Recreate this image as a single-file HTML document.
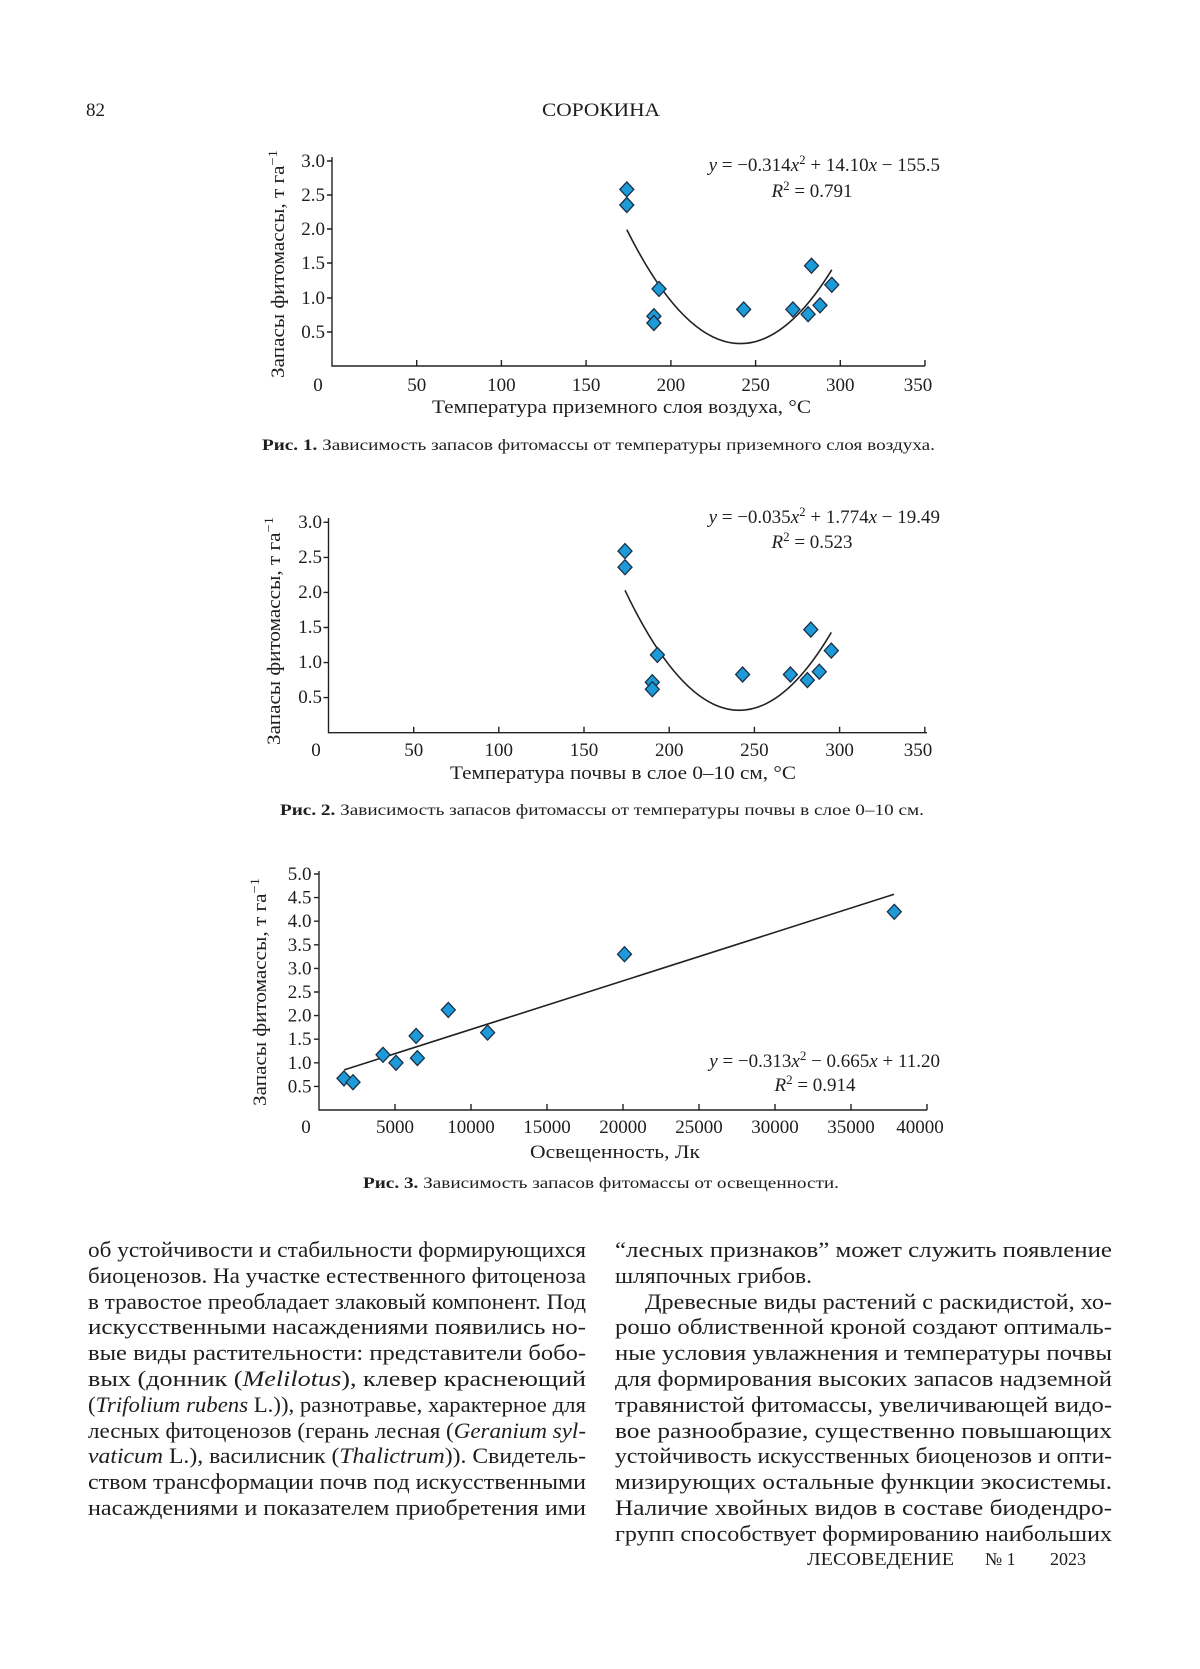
<!DOCTYPE html>
<html><head><meta charset="utf-8"><style>
html,body{margin:0;padding:0;background:#fff;}
svg{display:block;font-family:"Liberation Serif",serif;}
text{fill:#1e1e1e;}
</style></head><body>
<svg width="1200" height="1669" viewBox="0 0 1200 1669" xmlns="http://www.w3.org/2000/svg">
<defs>
<path id="d" d="M0,-7.5 L7,0 L0,7.5 L-7,0 Z" fill="#1c9bd8" stroke="#1d2f45" stroke-width="1.3"/>
</defs>
<text x="86" y="116" font-size="19">82</text>
<text x="542" y="116" font-size="19" textLength="118" lengthAdjust="spacingAndGlyphs">СОРОКИНА</text>

<!-- ===== Chart 1 ===== -->
<g stroke="#222" stroke-width="1.4" fill="none">
<path d="M332,157 V366 H925"/>
<path d="M327,161 H332 M327,195 H332 M327,229 H332 M327,263 H332 M327,298 H332 M327,332 H332"/>
<path d="M416.7,366 V360 M501.4,366 V360 M586.1,366 V360 M670.9,366 V360 M755.6,366 V360 M840.3,366 V360 M925,366 V360"/>
<path d="M626.8,229.6 Q729.3,435.3 831.8,269.8" stroke-width="1.6"/>
</g>
<g font-size="19" text-anchor="end">
<text x="325" y="167">3.0</text><text x="325" y="201">2.5</text><text x="325" y="235">2.0</text>
<text x="325" y="269">1.5</text><text x="325" y="304">1.0</text><text x="325" y="338">0.5</text>
</g>
<g font-size="19" text-anchor="middle">
<text x="318" y="391">0</text><text x="416.7" y="391">50</text><text x="501.4" y="391">100</text>
<text x="586.1" y="391">150</text><text x="670.9" y="391">200</text><text x="755.6" y="391">250</text>
<text x="840.3" y="391">300</text><text x="918" y="391">350</text>
</g>
<text x="432" y="413" font-size="19" textLength="379" lengthAdjust="spacingAndGlyphs">Температура приземного слоя воздуха, °C</text>
<text transform="translate(284,264) rotate(-90)" font-size="19" text-anchor="middle" textLength="228" lengthAdjust="spacingAndGlyphs">Запасы фитомассы, т га<tspan dy="-7" font-size="13">−1</tspan></text>
<text x="940" y="171" font-size="19" text-anchor="end"><tspan font-style="italic">y</tspan> = −0.314<tspan font-style="italic">x</tspan><tspan dy="-7" font-size="13">2</tspan><tspan dy="7"> + 14.10</tspan><tspan font-style="italic">x</tspan> − 155.5</text>
<text x="812" y="197" font-size="19" text-anchor="middle"><tspan font-style="italic">R</tspan><tspan dy="-7" font-size="13">2</tspan><tspan dy="7"> = 0.791</tspan></text>
<g>
<use href="#d" x="626.8" y="189.4"/><use href="#d" x="626.8" y="205.0"/>
<use href="#d" x="653.9" y="316.2"/><use href="#d" x="653.9" y="323.0"/>
<use href="#d" x="659.0" y="288.9"/><use href="#d" x="743.7" y="309.4"/>
<use href="#d" x="792.9" y="309.4"/><use href="#d" x="808.1" y="314.2"/>
<use href="#d" x="811.5" y="265.7"/><use href="#d" x="820.0" y="305.3"/>
<use href="#d" x="831.8" y="284.8"/>
</g>
<text x="262" y="450" font-size="16" textLength="673" lengthAdjust="spacingAndGlyphs"><tspan font-weight="bold">Рис. 1.</tspan> Зависимость запасов фитомассы от температуры приземного слоя воздуха.</text>

<!-- ===== Chart 2 ===== -->
<g stroke="#222" stroke-width="1.4" fill="none">
<path d="M328.5,518 V732.7 H927"/>
<path d="M323.5,522.3 H328.5 M323.5,557.4 H328.5 M323.5,592.4 H328.5 M323.5,627.5 H328.5 M323.5,662.6 H328.5 M323.5,697.6 H328.5"/>
<path d="M413.7,732.7 V726.7 M498.8,732.7 V726.7 M584,732.7 V726.7 M669.2,732.7 V726.7 M754.4,732.7 V726.7 M839.6,732.7 V726.7 M924.8,732.7 V726.7"/>
<path d="M625.0,590.3 Q728.2,807.0 831.3,632.4" stroke-width="1.6"/>
</g>
<g font-size="19" text-anchor="end">
<text x="322" y="528">3.0</text><text x="322" y="563">2.5</text><text x="322" y="598">2.0</text>
<text x="322" y="633">1.5</text><text x="322" y="668">1.0</text><text x="322" y="703">0.5</text>
</g>
<g font-size="19" text-anchor="middle">
<text x="316" y="756">0</text><text x="413.7" y="756">50</text><text x="498.8" y="756">100</text>
<text x="584" y="756">150</text><text x="669.2" y="756">200</text><text x="754.4" y="756">250</text>
<text x="839.6" y="756">300</text><text x="918" y="756">350</text>
</g>
<text x="450" y="779" font-size="19" textLength="346" lengthAdjust="spacingAndGlyphs">Температура почвы в слое 0–10 см, °C</text>
<text transform="translate(280,631) rotate(-90)" font-size="19" text-anchor="middle" textLength="228" lengthAdjust="spacingAndGlyphs">Запасы фитомассы, т га<tspan dy="-7" font-size="13">−1</tspan></text>
<text x="940" y="523" font-size="19" text-anchor="end"><tspan font-style="italic">y</tspan> = −0.035<tspan font-style="italic">x</tspan><tspan dy="-7" font-size="13">2</tspan><tspan dy="7"> + 1.774</tspan><tspan font-style="italic">x</tspan> − 19.49</text>
<text x="812" y="548" font-size="19" text-anchor="middle"><tspan font-style="italic">R</tspan><tspan dy="-7" font-size="13">2</tspan><tspan dy="7"> = 0.523</tspan></text>
<g>
<use href="#d" x="625.0" y="551.1"/><use href="#d" x="625.0" y="567.2"/>
<use href="#d" x="652.3" y="682.2"/><use href="#d" x="652.3" y="689.2"/>
<use href="#d" x="657.4" y="654.9"/><use href="#d" x="742.6" y="674.5"/>
<use href="#d" x="790.4" y="674.5"/><use href="#d" x="807.4" y="680.1"/>
<use href="#d" x="810.8" y="629.6"/><use href="#d" x="819.3" y="671.7"/>
<use href="#d" x="831.3" y="650.6"/>
</g>
<text x="280" y="815" font-size="16" textLength="644" lengthAdjust="spacingAndGlyphs"><tspan font-weight="bold">Рис. 2.</tspan> Зависимость запасов фитомассы от температуры почвы в слое 0–10 см.</text>

<!-- ===== Chart 3 ===== -->
<g stroke="#222" stroke-width="1.4" fill="none">
<path d="M319,871 V1110 H927"/>
<path d="M314,874 H319 M314,897.6 H319 M314,921.2 H319 M314,944.8 H319 M314,968.4 H319 M314,992 H319 M314,1015.6 H319 M314,1039.2 H319 M314,1062.8 H319 M314,1086.4 H319"/>
<path d="M395,1110 V1104 M471,1110 V1104 M547,1110 V1104 M623,1110 V1104 M699,1110 V1104 M775,1110 V1104 M851,1110 V1104 M927,1110 V1104"/>
<path d="M344.2,1069.9 L894.0,894.3" stroke-width="1.6"/>
</g>
<g font-size="19" text-anchor="end">
<text x="311.5" y="880">5.0</text><text x="311.5" y="903.6">4.5</text><text x="311.5" y="927.2">4.0</text>
<text x="311.5" y="950.8">3.5</text><text x="311.5" y="974.4">3.0</text><text x="311.5" y="998">2.5</text>
<text x="311.5" y="1021.6">2.0</text><text x="311.5" y="1045.2">1.5</text><text x="311.5" y="1068.8">1.0</text>
<text x="311.5" y="1092.4">0.5</text>
</g>
<g font-size="19" text-anchor="middle">
<text x="306" y="1133">0</text><text x="395" y="1133">5000</text><text x="471" y="1133">10000</text>
<text x="547" y="1133">15000</text><text x="623" y="1133">20000</text><text x="699" y="1133">25000</text>
<text x="775" y="1133">30000</text><text x="851" y="1133">35000</text><text x="920" y="1133">40000</text>
</g>
<text x="530" y="1158" font-size="19" textLength="170" lengthAdjust="spacingAndGlyphs">Освещенность, Лк</text>
<text transform="translate(266,992) rotate(-90)" font-size="19" text-anchor="middle" textLength="228" lengthAdjust="spacingAndGlyphs">Запасы фитомассы, т га<tspan dy="-7" font-size="13">−1</tspan></text>
<text x="940" y="1067" font-size="19" text-anchor="end"><tspan font-style="italic">y</tspan> = −0.313<tspan font-style="italic">x</tspan><tspan dy="-7" font-size="13">2</tspan><tspan dy="7"> − 0.665</tspan><tspan font-style="italic">x</tspan> + 11.20</text>
<text x="815" y="1091" font-size="19" text-anchor="middle"><tspan font-style="italic">R</tspan><tspan dy="-7" font-size="13">2</tspan><tspan dy="7"> = 0.914</tspan></text>
<g>
<use href="#d" x="344.0" y="1078.4"/><use href="#d" x="353.0" y="1082.2"/>
<use href="#d" x="383.0" y="1054.8"/><use href="#d" x="396.0" y="1062.8"/>
<use href="#d" x="416.1" y="1035.9"/><use href="#d" x="417.4" y="1058.1"/>
<use href="#d" x="448.3" y="1009.9"/><use href="#d" x="487.6" y="1032.6"/>
<use href="#d" x="624.5" y="954.2"/><use href="#d" x="894.3" y="911.8"/>
</g>
<text x="363" y="1188" font-size="16" textLength="476" lengthAdjust="spacingAndGlyphs"><tspan font-weight="bold">Рис. 3.</tspan> Зависимость запасов фитомассы от освещенности.</text>

<!-- ===== Body text ===== -->
<g font-size="22">
<text x="88" y="1257" textLength="498" lengthAdjust="spacingAndGlyphs">об устойчивости и стабильности формирующихся</text>
<text x="88" y="1283" textLength="498" lengthAdjust="spacingAndGlyphs">биоценозов. На участке естественного фитоценоза</text>
<text x="88" y="1309" textLength="498" lengthAdjust="spacingAndGlyphs">в травостое преобладает злаковый компонент. Под</text>
<text x="88" y="1334" textLength="498" lengthAdjust="spacingAndGlyphs">искусственными насаждениями появились но-</text>
<text x="88" y="1360" textLength="498" lengthAdjust="spacingAndGlyphs">вые виды растительности: представители бобо-</text>
<text x="88" y="1386" textLength="498" lengthAdjust="spacingAndGlyphs">вых (донник (<tspan font-style="italic">Melilotus</tspan>), клевер краснеющий</text>
<text x="88" y="1412" textLength="498" lengthAdjust="spacingAndGlyphs">(<tspan font-style="italic">Trifolium rubens</tspan> L.)), разнотравье, характерное для</text>
<text x="88" y="1438" textLength="498" lengthAdjust="spacingAndGlyphs">лесных фитоценозов (герань лесная (<tspan font-style="italic">Geranium syl-</tspan></text>
<text x="88" y="1463" textLength="498" lengthAdjust="spacingAndGlyphs"><tspan font-style="italic">vaticum</tspan> L.), василисник (<tspan font-style="italic">Thalictrum</tspan>)). Свидетель-</text>
<text x="88" y="1489" textLength="498" lengthAdjust="spacingAndGlyphs">ством трансформации почв под искусственными</text>
<text x="88" y="1515" textLength="498" lengthAdjust="spacingAndGlyphs">насаждениями и показателем приобретения ими</text>

<text x="615" y="1257" textLength="497" lengthAdjust="spacingAndGlyphs">“лесных признаков” может служить появление</text>
<text x="615" y="1283" textLength="197" lengthAdjust="spacingAndGlyphs">шляпочных грибов.</text>
<text x="645" y="1309" textLength="467" lengthAdjust="spacingAndGlyphs">Древесные виды растений с раскидистой, хо-</text>
<text x="615" y="1334" textLength="497" lengthAdjust="spacingAndGlyphs">рошо облиственной кроной создают оптималь-</text>
<text x="615" y="1360" textLength="497" lengthAdjust="spacingAndGlyphs">ные условия увлажнения и температуры почвы</text>
<text x="615" y="1386" textLength="497" lengthAdjust="spacingAndGlyphs">для формирования высоких запасов надземной</text>
<text x="615" y="1412" textLength="497" lengthAdjust="spacingAndGlyphs">травянистой фитомассы, увеличивающей видо-</text>
<text x="615" y="1438" textLength="497" lengthAdjust="spacingAndGlyphs">вое разнообразие, существенно повышающих</text>
<text x="615" y="1463" textLength="497" lengthAdjust="spacingAndGlyphs">устойчивость искусственных биоценозов и опти-</text>
<text x="615" y="1489" textLength="497" lengthAdjust="spacingAndGlyphs">мизирующих остальные функции экосистемы.</text>
<text x="615" y="1515" textLength="497" lengthAdjust="spacingAndGlyphs">Наличие хвойных видов в составе биодендро-</text>
<text x="615" y="1541" textLength="497" lengthAdjust="spacingAndGlyphs">групп способствует формированию наибольших</text>
</g>

<text x="807" y="1565" font-size="18" textLength="147" lengthAdjust="spacingAndGlyphs">ЛЕСОВЕДЕНИЕ</text>
<text x="985" y="1565" font-size="18">№ 1</text>
<text x="1050" y="1565" font-size="18">2023</text>
</svg>
</body></html>
